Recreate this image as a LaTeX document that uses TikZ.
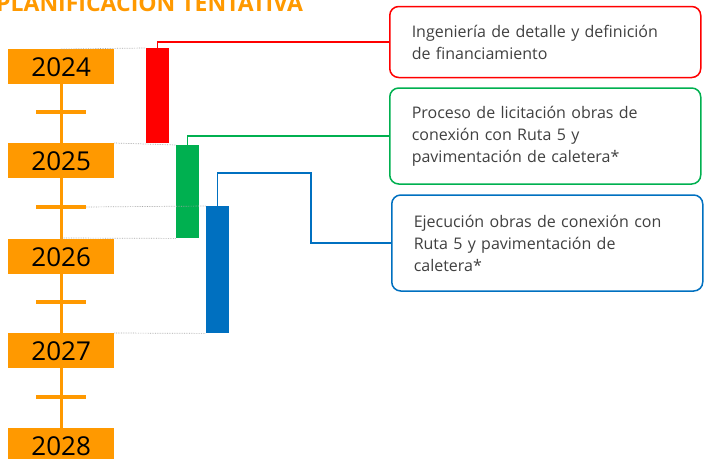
\documentclass[tikz,border=0pt]{standalone}
\usepackage{fontspec}
\setmainfont{Open Sans}
\definecolor{orng}{HTML}{FF9900}
\definecolor{bred}{HTML}{FF0000}
\definecolor{bgreen}{HTML}{00B050}
\definecolor{bblue}{HTML}{0070C0}
\definecolor{txtg}{HTML}{404040}
\definecolor{dotg}{HTML}{A6A6A6}
\begin{document}
\begin{tikzpicture}[x=1pt,y=-1pt,
  yearbox/.style={fill=orng, minimum width=106pt, minimum height=35pt, inner sep=0pt, anchor=north west, font=\fontsize{26}{26}\selectfont, text=black},
  tickmark/.style={draw=orng, line width=4pt},
  bar/.style={minimum width=23pt, inner sep=0pt, anchor=north west},
  infobox/.style={draw, line width=1.5pt, rounded corners=9pt, minimum width=311pt, inner xsep=22pt, text width=267pt, align=left, text=txtg, font=\fontsize{16}{22}\selectfont, anchor=west},
  guide/.style={draw=dotg, densely dotted, line width=0.7pt},
  conn/.style={line width=1.3pt}]
\useasboundingbox (0,0) rectangle (707,458);
% title
\node[anchor=base west, inner sep=0pt, text=orng, font=\bfseries\fontsize{23}{23}\selectfont] (title) at (-4,11) {PLANIFICACION TENTATIVA};
% box anchors
\coordinate (rboxw) at (389,42);
\coordinate (gboxw) at (389,136);
\coordinate (bboxw) at (391,243);
\coordinate (bj1) at (311,173);
% bars
\node[bar, fill=bred, minimum height=95pt] (rbar) at (146,48) {};
\node[bar, fill=bgreen, minimum height=93pt] (gbar) at (176,145) {};
\node[bar, fill=bblue, minimum height=127pt] (bbar) at (206,206) {};
% connectors
\draw[conn, color=bred] (rbar.north) |- (rboxw);
\draw[conn, color=bgreen] (gbar.north) |- (gboxw);
\draw[conn, color=bblue] (bbar.north) |- (bj1) |- (bboxw);
% axis
\coordinate (axtop) at (61,49);
\coordinate (axbot) at (61,458);
\draw[draw=orng, line width=3pt] (axtop) -- (axbot);
\foreach \y/\n in {112/t1,207/t2,302/t3,397/t4}{
  \coordinate (\n l) at (36,\y); \coordinate (\n r) at (86,\y);
  \draw[tickmark] (\n l) -- (\n r);
}
\node[yearbox] (y24) at (8,49) {2024};
\node[yearbox] (y25) at (8,143) {2025};
\node[yearbox] (y26) at (8,239) {2026};
\node[yearbox] (y27) at (8,333) {2027};
\node[yearbox] (y28) at (8,428) {2028};
% guides
\draw[guide] (axtop) -- (rbar.north west);
\draw[guide] (y25.north east) -- (gbar.north west);
\draw[guide] (t2r) -- (bbar.north west);
\coordinate (g26) at (61,238);
\draw[guide] (g26) -- (gbar.south west);
\draw[guide] (y27.north east) -- (bbar.south west);
% boxes
\node[infobox, draw=bred, minimum height=71pt] (rbox) at (rboxw) {Ingeniería de detalle y definición\\de financiamiento};
\node[infobox, draw=bgreen, minimum height=96pt] (gbox) at (gboxw) {Proceso de licitación obras de\\conexión con Ruta 5 y\\pavimentación de caletera*};
\node[infobox, draw=bblue, minimum height=96pt] (bbox) at (bboxw) {Ejecución obras de conexión con\\Ruta 5 y pavimentación de\\caletera*};
\end{tikzpicture}
\end{document}
